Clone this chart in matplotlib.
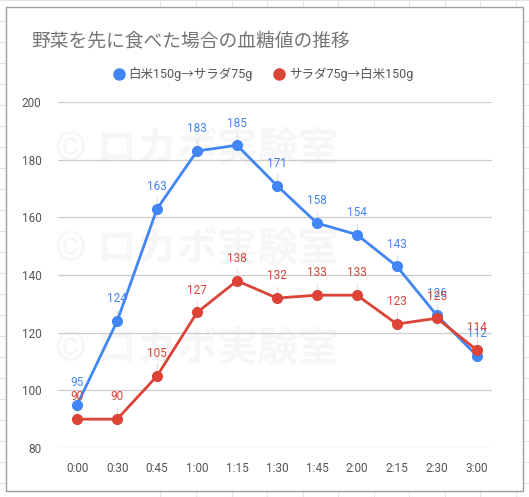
import matplotlib
matplotlib.use("Agg")
import matplotlib.pyplot as plt
from matplotlib.lines import Line2D
from matplotlib.patches import Rectangle

plt.rcParams['font.family'] = ['Roboto', 'Noto Sans CJK JP', 'DejaVu Sans']

title = "野菜を先に食べた場合の血糖値の推移"
times = ["0:00", "0:30", "0:45", "1:00", "1:15", "1:30", "1:45", "2:00", "2:15", "2:30", "3:00"]
rice_first = [95, 124, 163, 183, 185, 171, 158, 154, 143, 126, 112]
salad_first = [90, 90, 105, 127, 138, 132, 133, 133, 123, 125, 114]
series_names = ["白米150g→サラダ75g", "サラダ75g→白米150g"]
y_ticks = [80, 100, 120, 140, 160, 180, 200]

blue = "#4285F4"
red = "#DB4437"

W, H = 529, 497
fig = plt.figure(figsize=(W / 100, H / 100), dpi=100)

# spreadsheet cells behind the chart box
for x in [160, 196, 232, 267, 303, 338, 374, 409, 445, 480, 516]:
  fig.add_artist(Line2D([x / W, x / W], [0, 1], color="#e2e2e2", lw=0.8, zorder=0))
for y in range(0, H, 21):
  fig.add_artist(Line2D([0, 1], [1 - y / H, 1 - y / H], color="#e2e2e2", lw=0.8, zorder=0))

# chart box
box = Rectangle((6 / W, 1 - 491 / H), 517 / W, 484 / H, facecolor="white",
                edgecolor="#9e9e9e", lw=1.0, zorder=1)
fig.add_artist(box)

# faint watermark, kept inside the box
for yc in [150, 250, 350]:
  t = fig.text(55 / W, 1 - yc / H, "© ロカボ実験室", fontsize=29, fontweight="bold",
               color="#f6f6f6", ha="left", va="center", zorder=2)
  t.set_clip_path(box)

ax = fig.add_axes([58 / W, 1 - 448 / H, 434 / W, 346 / H])
ax.set_facecolor("none")
ax.set_zorder(3)

x = list(range(len(times)))
ax.plot(x, rice_first, color=blue, lw=2, marker="o", ms=7, zorder=4)
ax.plot(x, salad_first, color=red, lw=2, marker="o", ms=7, zorder=5)

for xi, v in zip(x, rice_first):
  ax.plot([xi, xi], [v, v + 4], color="#dddddd", lw=0.8, zorder=3)
  ax.annotate(str(v), (xi, v), xytext=(0, 16), textcoords="offset points",
              ha="center", va="center", fontsize=8.5, color=blue, zorder=6)
for xi, v in zip(x, salad_first):
  ax.plot([xi, xi], [v, v + 4], color="#dddddd", lw=0.8, zorder=3)
  ax.annotate(str(v), (xi, v), xytext=(0, 16), textcoords="offset points",
              ha="center", va="center", fontsize=8.5, color=red, zorder=6)

ax.set_xlim(-0.48, 10.38)
ax.set_ylim(80, 200)
ax.set_yticks(y_ticks)
ax.set_xticks(x)
ax.set_xticklabels(times)
ax.grid(axis="y", color="#cccccc", lw=0.9)
ax.set_axisbelow(True)
for s in ax.spines.values():
  s.set_visible(False)
ax.tick_params(length=0, labelsize=8.5, labelcolor="#555555")
ax.tick_params(axis="y", pad=12)
ax.tick_params(axis="x", pad=10)

fig.text(31 / W, 1 - 42 / H, title, fontsize=13.5, color="#757575", ha="left", va="center", zorder=7)

handles = [Line2D([], [], color=blue, marker="o", ls="none", ms=8),
           Line2D([], [], color=red, marker="o", ls="none", ms=8)]
fig.legend(handles, series_names, loc="center", bbox_to_anchor=(263 / W, 1 - 74 / H), ncol=2,
           frameon=False, fontsize=9, labelcolor="#555555", handletextpad=0.3,
           columnspacing=1.6, handlelength=1.0)

fig.savefig("out.png", dpi=100)
